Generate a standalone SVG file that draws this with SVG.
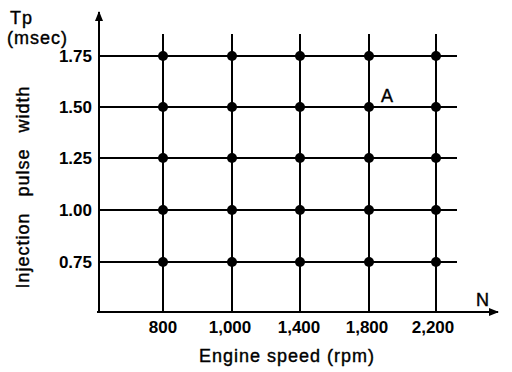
<svg xmlns="http://www.w3.org/2000/svg" width="512" height="372" viewBox="0 0 512 372">
<defs>
<marker id="ah" viewBox="0 0 10 10" refX="9" refY="5" markerWidth="10" markerHeight="10" markerUnits="userSpaceOnUse" orient="auto"><path d="M0,1 L10,5 L0,9 Z" fill="#000"/></marker>
<style>
text{font-family:"Liberation Sans",Arial,sans-serif;fill:#000}
.v{font-size:17px;font-weight:bold;text-anchor:end}
.x{font-size:17px;font-weight:bold;text-anchor:middle}
.t{font-size:18px;letter-spacing:1px;stroke:#000;stroke-width:0.4}
.g{stroke:#000;stroke-width:2;fill:none}
.d{fill:#000}
</style>
</defs>
<rect width="512" height="372" fill="#fff"/>
<g id="axes">
<line x1="99" y1="312" x2="99" y2="12" class="g" marker-end="url(#ah)"/>
<line x1="97" y1="312" x2="498" y2="312" class="g" marker-end="url(#ah)"/>
</g>
<g id="connectors">
<line x1="99" y1="56" x2="457" y2="56" class="g"/>
<line x1="99" y1="107" x2="457" y2="107" class="g"/>
<line x1="99" y1="158" x2="457" y2="158" class="g"/>
<line x1="99" y1="210" x2="457" y2="210" class="g"/>
<line x1="99" y1="262" x2="457" y2="262" class="g"/>
<line x1="163" y1="34" x2="163" y2="312" class="g"/>
<line x1="232" y1="34" x2="232" y2="312" class="g"/>
<line x1="300" y1="34" x2="300" y2="312" class="g"/>
<line x1="369" y1="34" x2="369" y2="312" class="g"/>
<line x1="436" y1="34" x2="436" y2="312" class="g"/>
</g>
<g id="dots">
<circle cx="163" cy="56" r="5" class="d"/><circle cx="232" cy="56" r="5" class="d"/><circle cx="300" cy="56" r="5" class="d"/><circle cx="369" cy="56" r="5" class="d"/><circle cx="436" cy="56" r="5" class="d"/>
<circle cx="163" cy="107" r="5" class="d"/><circle cx="232" cy="107" r="5" class="d"/><circle cx="300" cy="107" r="5" class="d"/><circle cx="369" cy="107" r="5" class="d"/><circle cx="436" cy="107" r="5" class="d"/>
<circle cx="163" cy="158" r="5" class="d"/><circle cx="232" cy="158" r="5" class="d"/><circle cx="300" cy="158" r="5" class="d"/><circle cx="369" cy="158" r="5" class="d"/><circle cx="436" cy="158" r="5" class="d"/>
<circle cx="163" cy="210" r="5" class="d"/><circle cx="232" cy="210" r="5" class="d"/><circle cx="300" cy="210" r="5" class="d"/><circle cx="369" cy="210" r="5" class="d"/><circle cx="436" cy="210" r="5" class="d"/>
<circle cx="163" cy="262" r="5" class="d"/><circle cx="232" cy="262" r="5" class="d"/><circle cx="300" cy="262" r="5" class="d"/><circle cx="369" cy="262" r="5" class="d"/><circle cx="436" cy="262" r="5" class="d"/>
</g>
<g id="ylabels">
<text x="10" y="24" class="t">Tp</text>
<text x="7" y="44" class="t">(msec)</text>
<text x="92" y="62" class="v">1.75</text>
<text x="92" y="113" class="v">1.50</text>
<text x="92" y="164" class="v">1.25</text>
<text x="92" y="216" class="v">1.00</text>
<text x="92" y="268" class="v">0.75</text>
<text transform="translate(29,187) rotate(-90)" class="t" text-anchor="middle" word-spacing="10">Injection pulse width</text>
</g>
<g id="xlabels">
<text x="163" y="333" class="x">800</text>
<text x="230" y="333" class="x">1,000</text>
<text x="299" y="333" class="x">1,400</text>
<text x="367" y="333" class="x">1,800</text>
<text x="433" y="333" class="x">2,200</text>
<text x="287" y="362" class="t" text-anchor="middle">Engine speed (rpm)</text>
<text x="476" y="306" class="t">N</text>
</g>
<g id="pointA"><text x="381" y="102" class="t">A</text></g>
</svg>
